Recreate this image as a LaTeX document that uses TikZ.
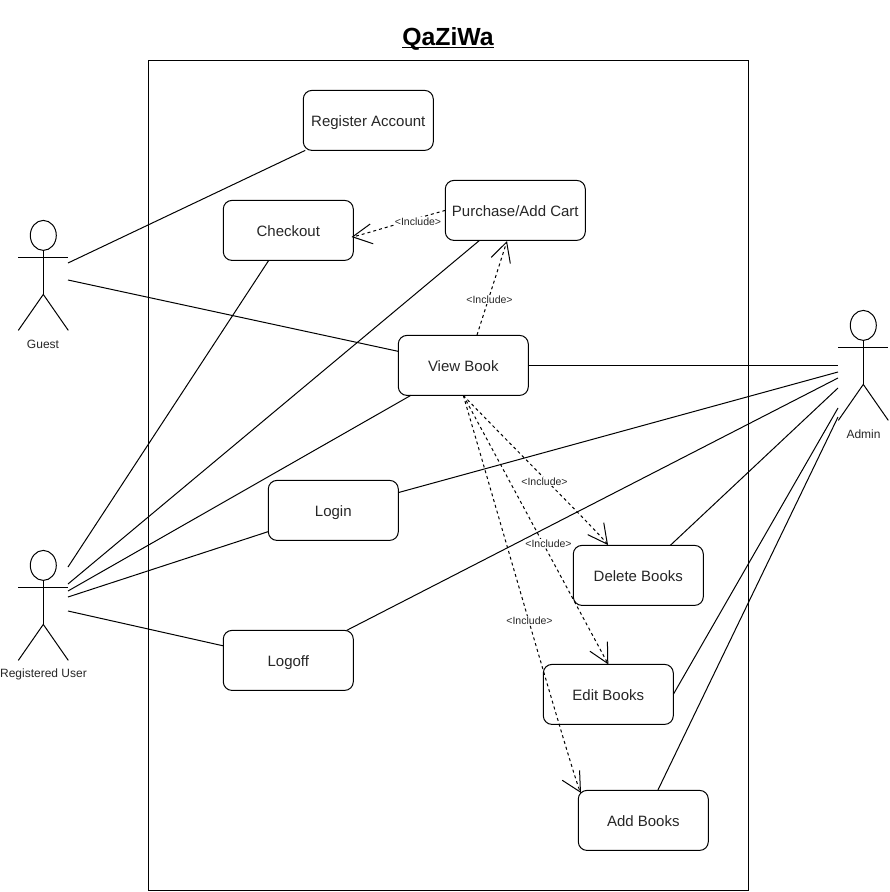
\documentclass[tikz,border=0pt]{standalone}
\usepackage{fontspec}
\setmainfont{Liberation Sans}
\usetikzlibrary{arrows.meta,shapes.geometric}
\tikzset{
  usecase/.style={draw=black,rounded corners=6.5pt,line width=0.75pt,minimum width=97.5pt,minimum height=45pt,inner sep=0pt,outer sep=0pt,font=\fontsize{11.25}{13}\selectfont,text=black!85,text height=9.2pt,text depth=0pt},
  assoc/.style={draw=black,line width=0.75pt},
  incl/.style={draw=black,line width=0.75pt,dash pattern=on 2.25pt off 2.25pt,-{Straight Barb[length=14.5pt,width=15pt,line width=0.75pt]}},
  incllabel/.style={fill=white,inner sep=0.5pt,outer sep=0pt,font=\fontsize{7.9}{9}\selectfont,text=black!85},
  actorlabel/.style={inner sep=0pt,outer sep=0pt,font=\fontsize{9}{11}\selectfont,text=black!85},
  actorline/.style={draw=black,line width=0.75pt},
}
\newcommand{\umlactor}[3]{%
  \begin{scope}[shift={(#1,#2)}]
    \node[draw=black,line width=0.75pt,ellipse,minimum width=19.5pt,minimum height=22.5pt,inner sep=0pt,outer sep=0pt] (#3head) at (25,15) {};
    \coordinate (#3neck) at (25,30);
    \coordinate (#3hip) at (25,74);
    \coordinate (#3armL) at (0,37);
    \coordinate (#3armR) at (50,37);
    \coordinate (#3legL) at (0,110);
    \coordinate (#3legR) at (50,110);
    \draw[actorline] (#3neck) -- (#3hip);
    \draw[actorline] (#3armL) -- (#3armR);
    \draw[actorline] (#3legL) -- (#3hip) -- (#3legR);
  \end{scope}}
\begin{document}
\begin{tikzpicture}[x=0.75pt,y=-0.75pt]
\useasboundingbox (0,0) rectangle (889,892);
\node[inner sep=0pt,font=\fontsize{18.6}{22}\selectfont\bfseries,text=black] (title) at (448,46.5) {\underline{\smash{QaZiWa}}};
\node[draw=black,line width=0.75pt,minimum width=450pt,minimum height=622.5pt,inner sep=0pt,outer sep=0pt] (system) at (448.5,475.5) {};

\begin{scope}[shift={(0.3,0.4)}]
\node[usecase] (reg) at (368,120) {Register Account};
\node[usecase] (checkout) at (288,230) {Checkout};
\node[usecase,minimum width=105pt] (purchase) at (515,210) {Purchase/Add Cart};
\node[usecase] (view) at (463,365) {View Book};
\node[usecase] (login) at (333,510) {Login};
\node[usecase] (logoff) at (288,660) {Logoff};
\node[usecase] (delete) at (638,575) {Delete Books};
\node[usecase] (edit) at (608,694) {Edit Books};
\node[usecase] (add) at (643,820) {Add Books};

\umlactor{18}{220}{guest}
\umlactor{18}{550}{ruser}
\umlactor{838}{310}{admin}
\end{scope}
\node[actorlabel] (guestlabel) at (43,344) {Guest};
\node[actorlabel] (ruserlabel) at (43.5,674.5) {Registered User};
\node[actorlabel] (adminlabel) at (863.5,434) {Admin};

% ports on the actors
\coordinate (g1) at (68,263);
\coordinate (g2) at (68,280);
\coordinate (r1) at (68,567);
\coordinate (r2) at (68,584);
\coordinate (r3) at (68,591);
\coordinate (r4) at (68,597);
\coordinate (r5) at (68,611);
\coordinate (a1) at (838,365.4);
\coordinate (a2) at (838,372);
\coordinate (a3) at (838,378);
\coordinate (a4) at (838,388);
\coordinate (a5) at (838,408);
\coordinate (a6) at (838,417);

\draw[assoc] (g1) -- (reg);
\draw[assoc] (g2) -- (view);
\draw[assoc] (r1) -- (checkout);
\draw[assoc] (r2) -- (purchase);
\draw[assoc] (r3) -- (view);
\draw[assoc] (r4) -- (login);
\draw[assoc] (r5) -- (logoff);
\draw[assoc] (view.east) -- (a1);
\draw[assoc] (login) -- (a2);
\draw[assoc] (logoff) -- (a3);
\draw[assoc] (delete) -- (a4);
\draw[assoc] (edit.east) -- (a5);
\draw[assoc] (add) -- (a6);

% include ends, with the slight bend the reference has near its arrowheads
\coordinate (vs) at (477,335);
\coordinate (pt) at (507,241);
\coordinate (ct) at (351.5,237);
\coordinate (cc) at (358,236);
\coordinate (cstart) at (400,223);
\coordinate (dt) at (608,545);
\coordinate (dc) at (599,533);
\coordinate (dstart) at (510,444);
\coordinate (addt) at (581,793);
\coordinate (addc) at (575,782.5);
\coordinate (addstart) at (502,528);
\draw[incl] (purchase.west) .. controls (cstart) and (cc) .. (ct);
\draw[incl] (vs) -- (pt);
\draw[incl] (view.south) .. controls (dstart) and (dc) .. (dt);
\draw[incl] (view.south) -- (edit.north);
\draw[incl] (view.south) .. controls (addstart) and (addc) .. (addt);

\node[incllabel] (l1) at (418,221.5) {<Include>};
\node[incllabel] (l2) at (489.5,299.5) {<Include>};
\node[incllabel] (l3) at (544.5,481.5) {<Include>};
\node[incllabel] (l4) at (548.5,543.5) {<Include>};
\node[incllabel] (l5) at (529.5,620.5) {<Include>};
\end{tikzpicture}
\end{document}
